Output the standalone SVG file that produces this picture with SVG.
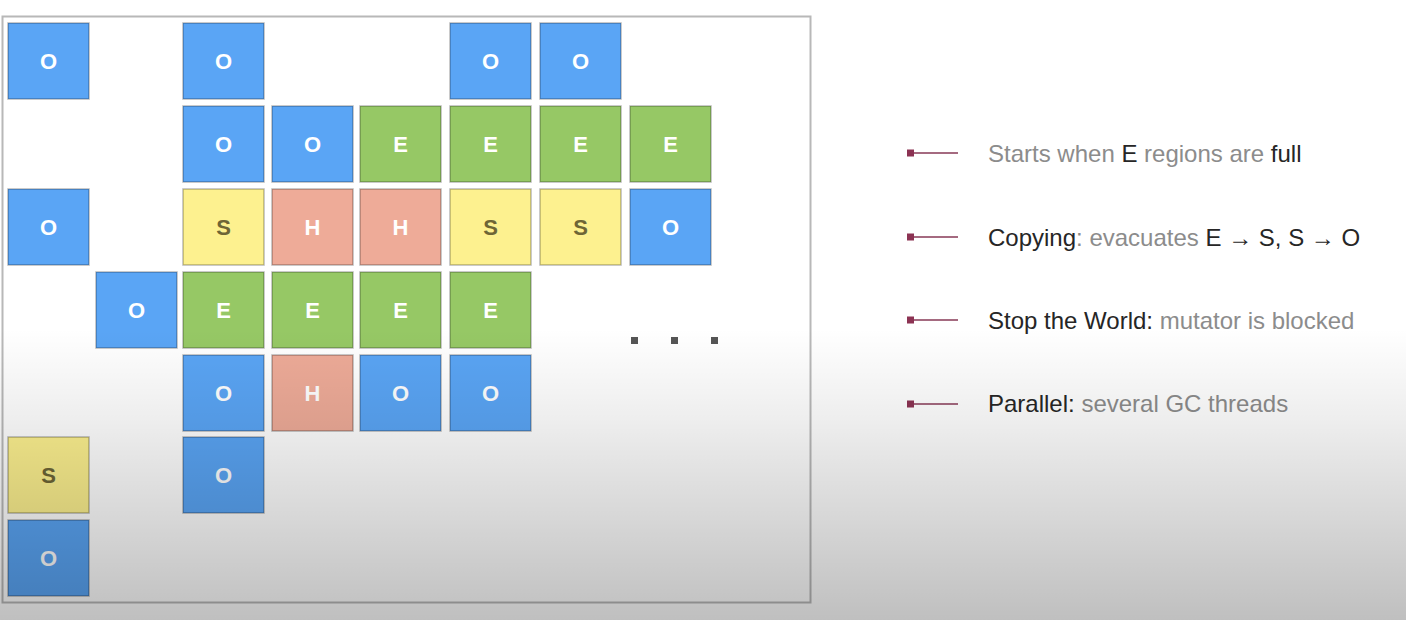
<svg xmlns="http://www.w3.org/2000/svg" width="1406" height="620" viewBox="0 0 1406 620">
<defs>
<linearGradient id="shade" x1="0" y1="0" x2="0" y2="620" gradientUnits="userSpaceOnUse">
<stop offset="0.53" stop-color="#000" stop-opacity="0"/>
<stop offset="0.68" stop-color="#000" stop-opacity="0.07"/>
<stop offset="1" stop-color="#000" stop-opacity="0.25"/>
</linearGradient>
</defs>
<style>
.t{stroke:#000;stroke-opacity:0.28;stroke-width:1.5}
.o{fill:#5aa5f5}.e{fill:#96c865}.s{fill:#fdf18f}.h{fill:#eeab98}
.l{font-family:"Liberation Sans",Arial,sans-serif;font-size:22px;font-weight:bold;text-anchor:middle;fill:#fff}
.ls{fill:#6e6636}
.leg{font-family:"Liberation Sans",Arial,sans-serif;font-size:24px;fill:#8c8c8c}
.dk{fill:#262626}
.mk{fill:#8c3353}
.ln{stroke:#a56a80;stroke-width:2}
</style>
<rect x="0" y="0" width="1406" height="620" fill="#fff"/>
<rect id="frame" x="2.5" y="16.5" width="808" height="586" fill="#fff" stroke="#b8b8b8" stroke-width="2"/>
<g id="tiles">
<g id="r1c1"><rect class="t o" x="8" y="23" width="81" height="76"/><text class="l" x="48.5" y="69">O</text></g>
<g id="r1c3"><rect class="t o" x="183" y="23" width="81" height="76"/><text class="l" x="223.5" y="69">O</text></g>
<g id="r1c6"><rect class="t o" x="450" y="23" width="81" height="76"/><text class="l" x="490.5" y="69">O</text></g>
<g id="r1c7"><rect class="t o" x="540" y="23" width="81" height="76"/><text class="l" x="580.5" y="69">O</text></g>

<g id="r2c3"><rect class="t o" x="183" y="106" width="81" height="76"/><text class="l" x="223.5" y="152">O</text></g>
<g id="r2c4"><rect class="t o" x="272" y="106" width="81" height="76"/><text class="l" x="312.5" y="152">O</text></g>
<g id="r2c5"><rect class="t e" x="360" y="106" width="81" height="76"/><text class="l" x="400.5" y="152">E</text></g>
<g id="r2c6"><rect class="t e" x="450" y="106" width="81" height="76"/><text class="l" x="490.5" y="152">E</text></g>
<g id="r2c7"><rect class="t e" x="540" y="106" width="81" height="76"/><text class="l" x="580.5" y="152">E</text></g>
<g id="r2c8"><rect class="t e" x="630" y="106" width="81" height="76"/><text class="l" x="670.5" y="152">E</text></g>

<g id="r3c1"><rect class="t o" x="8" y="189" width="81" height="76"/><text class="l" x="48.5" y="235">O</text></g>
<g id="r3c3"><rect class="t s" x="183" y="189" width="81" height="76"/><text class="l ls" x="223.5" y="235">S</text></g>
<g id="r3c4"><rect class="t h" x="272" y="189" width="81" height="76"/><text class="l" x="312.5" y="235">H</text></g>
<g id="r3c5"><rect class="t h" x="360" y="189" width="81" height="76"/><text class="l" x="400.5" y="235">H</text></g>
<g id="r3c6"><rect class="t s" x="450" y="189" width="81" height="76"/><text class="l ls" x="490.5" y="235">S</text></g>
<g id="r3c7"><rect class="t s" x="540" y="189" width="81" height="76"/><text class="l ls" x="580.5" y="235">S</text></g>
<g id="r3c8"><rect class="t o" x="630" y="189" width="81" height="76"/><text class="l" x="670.5" y="235">O</text></g>

<g id="r4c2"><rect class="t o" x="96" y="272" width="81" height="76"/><text class="l" x="136.5" y="318">O</text></g>
<g id="r4c3"><rect class="t e" x="183" y="272" width="81" height="76"/><text class="l" x="223.5" y="318">E</text></g>
<g id="r4c4"><rect class="t e" x="272" y="272" width="81" height="76"/><text class="l" x="312.5" y="318">E</text></g>
<g id="r4c5"><rect class="t e" x="360" y="272" width="81" height="76"/><text class="l" x="400.5" y="318">E</text></g>
<g id="r4c6"><rect class="t e" x="450" y="272" width="81" height="76"/><text class="l" x="490.5" y="318">E</text></g>

<g id="r5c3"><rect class="t o" x="183" y="355" width="81" height="76"/><text class="l" x="223.5" y="401">O</text></g>
<g id="r5c4"><rect class="t h" x="272" y="355" width="81" height="76"/><text class="l" x="312.5" y="401">H</text></g>
<g id="r5c5"><rect class="t o" x="360" y="355" width="81" height="76"/><text class="l" x="400.5" y="401">O</text></g>
<g id="r5c6"><rect class="t o" x="450" y="355" width="81" height="76"/><text class="l" x="490.5" y="401">O</text></g>

<g id="r6c1"><rect class="t s" x="8" y="437" width="81" height="76"/><text class="l ls" x="48.5" y="483">S</text></g>
<g id="r6c3"><rect class="t o" x="183" y="437" width="81" height="76"/><text class="l" x="223.5" y="483">O</text></g>

<g id="r7c1"><rect class="t o" x="8" y="520" width="81" height="76"/><text class="l" x="48.5" y="566">O</text></g>
</g>
<g id="ellipsis" fill="#555">
<rect x="631" y="337" width="7" height="7"/>
<rect x="671" y="337" width="7" height="7"/>
<rect x="711" y="337" width="7" height="7"/>
</g>
<g id="connectors">
<line class="ln" x1="912" y1="153" x2="958" y2="153"/><rect class="mk" x="907" y="149.5" width="7" height="7"/>
<line class="ln" x1="912" y1="237" x2="958" y2="237"/><rect class="mk" x="907" y="233.5" width="7" height="7"/>
<line class="ln" x1="912" y1="320" x2="958" y2="320"/><rect class="mk" x="907" y="316.5" width="7" height="7"/>
<line class="ln" x1="912" y1="404" x2="958" y2="404"/><rect class="mk" x="907" y="400.5" width="7" height="7"/>
</g>
<g id="legend1"><text class="leg" x="988" y="162">Starts when <tspan class="dk">E</tspan> regions are <tspan class="dk">full</tspan></text></g>
<g id="legend2"><text class="leg" x="988" y="246"><tspan class="dk">Copying</tspan>: evacuates <tspan class="dk">E → S, S → O</tspan></text></g>
<g id="legend3"><text class="leg" x="988" y="329"><tspan class="dk">Stop the World:</tspan> mutator is blocked</text></g>
<g id="legend4"><text class="leg" x="988" y="412"><tspan class="dk">Parallel:</tspan> several GC threads</text></g>
<rect id="vignette" x="0" y="0" width="1406" height="620" fill="url(#shade)" pointer-events="none"/>
</svg>
